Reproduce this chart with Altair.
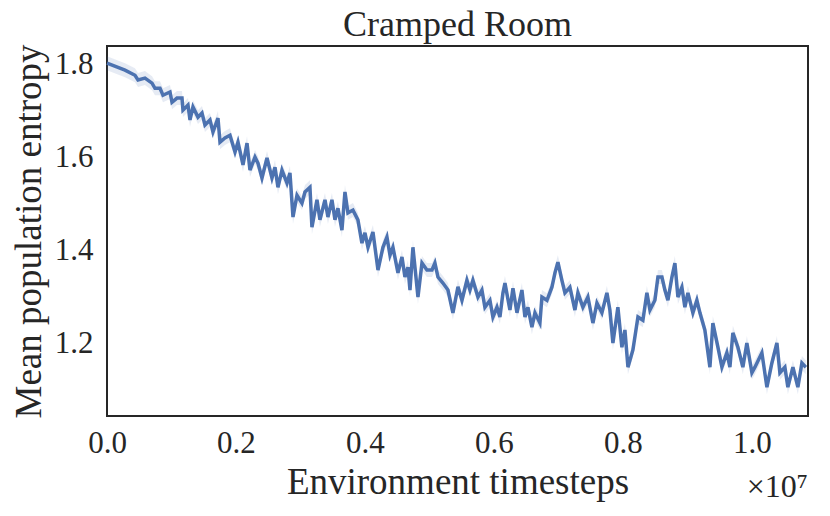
import altair as alt
import pandas as pd

# Environment timesteps (in units of 1e7 as read, converted below)
steps_e7 = [
    0.0000, 0.0279, 0.0434, 0.0481, 0.0589, 0.0698, 0.0744, 0.0822, 0.0868, 0.0977,
    0.1008, 0.1085, 0.1163, 0.1178, 0.1256, 0.1287, 0.1333, 0.1411, 0.1473, 0.1519,
    0.1597, 0.1643, 0.1721, 0.1752, 0.1829, 0.1907, 0.1985, 0.2031, 0.2109,
    0.2171, 0.2217, 0.2295, 0.2341, 0.2403, 0.2481, 0.2558, 0.2605, 0.2651, 0.2713,
    0.2791, 0.2837, 0.2884, 0.2946, 0.3023, 0.3070, 0.3147, 0.3178, 0.3256, 0.3302,
    0.3380, 0.3426, 0.3488, 0.3535, 0.3581, 0.3643, 0.3690, 0.3736, 0.3814, 0.3891,
    0.3953, 0.4000, 0.4047,
    0.4124, 0.4202, 0.4279, 0.4341, 0.4388, 0.4434, 0.4512, 0.4574, 0.4620, 0.4667,
    0.4698, 0.4744, 0.4822, 0.4884, 0.4961, 0.5039, 0.5085, 0.5132, 0.5209, 0.5287,
    0.5364, 0.5442, 0.5504, 0.5581, 0.5628, 0.5674, 0.5752, 0.5814, 0.5860, 0.5938,
    0.5984, 0.6047, 0.6093, 0.6140,
    0.6171, 0.6248, 0.6295, 0.6357, 0.6434, 0.6481, 0.6527, 0.6589, 0.6636, 0.6713,
    0.6744, 0.6822, 0.6899, 0.6946, 0.6992, 0.7054, 0.7101, 0.7178, 0.7256, 0.7302,
    0.7380, 0.7457, 0.7535, 0.7597, 0.7674, 0.7752, 0.7798, 0.7845, 0.7922, 0.7984,
    0.8031,
    0.8078, 0.8155, 0.8233, 0.8310, 0.8372, 0.8419, 0.8496, 0.8543, 0.8605, 0.8651,
    0.8698, 0.8760, 0.8806, 0.8853, 0.8915, 0.8961, 0.9008, 0.9085, 0.9147,
    0.9194, 0.9271, 0.9349, 0.9395, 0.9473, 0.9535, 0.9612, 0.9659, 0.9705, 0.9783,
    0.9860, 0.9922, 1.0000, 1.0047, 1.0155, 1.0233, 1.0310, 1.0388, 1.0434, 1.0512,
    1.0558, 1.0636, 1.0713, 1.0775, 1.0837,
]

entropy = [
    1.802, 1.787, 1.776, 1.766, 1.770, 1.759, 1.748, 1.748, 1.733, 1.740,
    1.718, 1.727, 1.727, 1.701, 1.712, 1.680, 1.708, 1.686, 1.695, 1.669,
    1.680, 1.654, 1.684, 1.632, 1.641, 1.647, 1.611, 1.632, 1.583,
    1.630, 1.572, 1.600, 1.587, 1.555, 1.598, 1.555, 1.578, 1.535, 1.572,
    1.544, 1.566, 1.471, 1.518, 1.501, 1.525, 1.535, 1.449, 1.508, 1.465,
    1.508, 1.471, 1.508, 1.465, 1.490, 1.443, 1.525, 1.480, 1.486, 1.465,
    1.415, 1.437, 1.406,
    1.439, 1.357, 1.406, 1.428, 1.389, 1.406, 1.351, 1.385, 1.342, 1.363,
    1.314, 1.406, 1.299, 1.372, 1.357, 1.357, 1.372, 1.342, 1.329, 1.314,
    1.265, 1.321, 1.292, 1.335, 1.314, 1.335, 1.299, 1.314, 1.277, 1.292,
    1.256, 1.277, 1.256, 1.308,
    1.329, 1.271, 1.318, 1.265, 1.314, 1.256, 1.277, 1.234, 1.265, 1.243,
    1.299, 1.292, 1.320, 1.351, 1.374, 1.335, 1.308, 1.320, 1.271, 1.308,
    1.277, 1.299, 1.243, 1.286, 1.265, 1.308, 1.271, 1.200, 1.277, 1.191,
    1.228,
    1.148, 1.185, 1.256, 1.249, 1.308, 1.271, 1.292, 1.342, 1.342, 1.314,
    1.292, 1.342, 1.372, 1.299, 1.320, 1.277, 1.308, 1.265, 1.292,
    1.265, 1.228, 1.148, 1.243, 1.191, 1.148, 1.179, 1.148, 1.222, 1.191,
    1.148, 1.200, 1.136, 1.148, 1.179, 1.105, 1.157, 1.200, 1.136, 1.148,
    1.105, 1.148, 1.105, 1.157, 1.148,
]

x_ticks = [0, 2e6, 4e6, 6e6, 8e6, 1e7]
y_ticks = [1.2, 1.4, 1.6, 1.8]

df = pd.DataFrame({
    "timesteps": [round(s * 1e7) for s in steps_e7],
    "entropy": entropy,
})

FONT = "Liberation Serif"
BLUE = "#4c72b0"
INK = "#262626"

x_enc = alt.X(
    "timesteps:Q",
    scale=alt.Scale(domain=[0, 1.087e7], nice=False, zero=False),
    axis=alt.Axis(
        values=x_ticks,
        labelExpr="format(datum.value / 1e7, '.1f')",
        title="Environment timesteps",
        grid=False, ticks=False, domain=False, labelFlush=False,
        labelFontSize=31, titleFontSize=37,
        labelPadding=12, titlePadding=6,
        labelFont=FONT, titleFont=FONT,
        labelColor=INK, titleColor=INK,
        titleFontWeight="normal",
    ),
)
y_scale = alt.Scale(domain=[1.043, 1.839], nice=False, zero=False)
y_enc = alt.Y(
    "entropy:Q",
    scale=y_scale,
    axis=alt.Axis(
        values=y_ticks,
        format=".1f",
        title="Mean population entropy",
        grid=False, ticks=False, domain=False, labelFlush=False,
        labelFontSize=31, titleFontSize=37,
        labelPadding=14, titlePadding=6,
        labelFont=FONT, titleFont=FONT,
        labelColor=INK, titleColor=INK,
        titleFontWeight="normal",
    ),
)

base = alt.Chart(df)

band = base.transform_calculate(
    lo="datum.entropy - 0.015", hi="datum.entropy + 0.015"
).mark_area(color=BLUE, opacity=0.14).encode(
    x=x_enc,
    y=alt.Y("lo:Q", scale=y_scale),
    y2="hi:Q",
)

line = base.mark_line(color=BLUE, strokeWidth=3.5).encode(x=x_enc, y=y_enc)

mult = alt.Chart(pd.DataFrame({"t": ["×10⁷"]})).mark_text(
    align="right", baseline="alphabetic", font=FONT, fontSize=32, color=INK
).encode(
    text="t:N",
    x=alt.value(701),
    y=alt.value(451),
)

chart = alt.layer(band, line, mult).properties(
    width=701,
    height=370,
    background="white",
    title=alt.TitleParams(
        "Cramped Room", font=FONT, fontSize=36, fontWeight="normal",
        color=INK, offset=0,
    ),
    autosize=alt.AutoSizeParams(type="none"),
    padding={"left": 99, "top": 38, "right": 14, "bottom": 92},
).configure_view(
    stroke=INK, strokeWidth=2
)

chart.save("out.html", embed_options={"renderer": "svg", "actions": False})
